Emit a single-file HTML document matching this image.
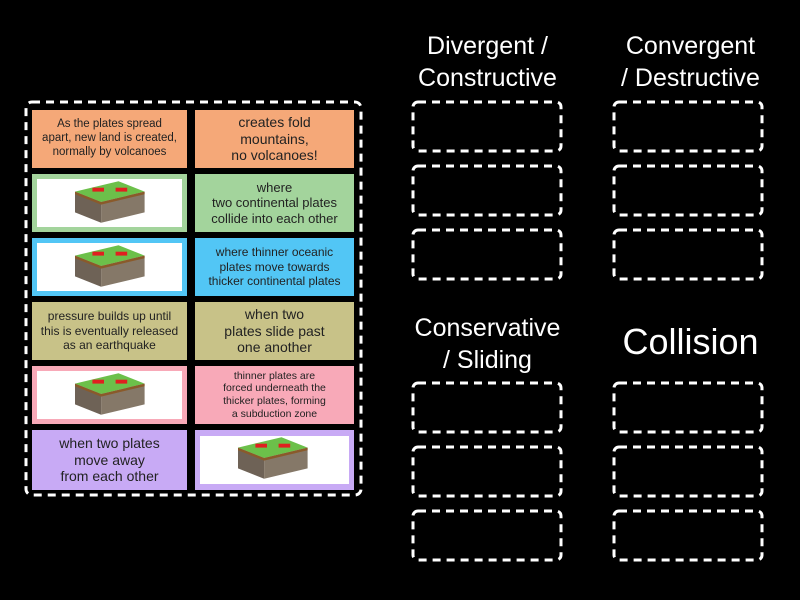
<!DOCTYPE html>
<html><head><meta charset="utf-8">
<style>
*{margin:0;padding:0;box-sizing:border-box}
body{width:800px;height:600px;background:#000;position:relative;overflow:hidden;font-family:"Liberation Sans","DejaVu Sans",sans-serif}
.c{position:absolute;display:flex;align-items:center;justify-content:center;text-align:center;color:#222;line-height:1.2}
.img{position:absolute;background:#fff}
.h{position:absolute;color:#fff;text-align:center;line-height:32px;font-size:25px}
svg.d{position:absolute;left:0;top:0}
</style></head><body>
<svg class="d" width="800" height="600">
<g fill="none" stroke="#fff" stroke-width="3" stroke-dasharray="8 6">
<rect x="26" y="102" width="335" height="393" rx="6"/>
<rect x="413" y="102" width="148" height="49" rx="5"/>
<rect x="413" y="166" width="148" height="49" rx="5"/>
<rect x="413" y="230" width="148" height="49" rx="5"/>
<rect x="614" y="102" width="148" height="49" rx="5"/>
<rect x="614" y="166" width="148" height="49" rx="5"/>
<rect x="614" y="230" width="148" height="49" rx="5"/>
<rect x="413" y="383" width="148" height="49" rx="5"/>
<rect x="413" y="447" width="148" height="49" rx="5"/>
<rect x="413" y="511" width="148" height="49" rx="5"/>
<rect x="614" y="383" width="148" height="49" rx="5"/>
<rect x="614" y="447" width="148" height="49" rx="5"/>
<rect x="614" y="511" width="148" height="49" rx="5"/>
</g>
</svg>
<div class="h" style="left:395px;top:30px;width:185px">Divergent /<br>Constructive</div>
<div class="h" style="left:598px;top:30px;width:185px">Convergent<br>/ Destructive</div>
<div class="h" style="left:395px;top:312px;width:185px">Conservative<br>/ Sliding</div>
<div class="h" style="left:598px;top:322px;width:185px;font-size:36px;line-height:40px">Collision</div>

<div class="c" style="left:32px;top:110px;width:155px;height:58px;background:#f5a878;font-size:11.5px">As the plates spread<br>apart, new land is created,<br>normally by volcanoes</div>
<div class="c" style="left:195px;top:110px;width:159px;height:58px;background:#f5a878;font-size:14px">creates fold<br>mountains,<br>no volcanoes!</div>

<div class="c" style="left:32px;top:174px;width:155px;height:58px;background:#a3d49c"><div class="img" style="left:5px;top:5px;width:145px;height:48px"></div></div>
<div class="c" style="left:195px;top:174px;width:159px;height:58px;background:#a3d49c;font-size:13px">where<br>two continental plates<br>collide into each other</div>

<div class="c" style="left:32px;top:238px;width:155px;height:58px;background:#52c6f5"><div class="img" style="left:5px;top:5px;width:145px;height:48px"></div></div>
<div class="c" style="left:195px;top:238px;width:159px;height:58px;background:#52c6f5;font-size:12px">where thinner oceanic<br>plates move towards<br>thicker continental plates</div>

<div class="c" style="left:32px;top:302px;width:155px;height:58px;background:#c8c288;font-size:12px">pressure builds up until<br>this is eventually released<br>as an earthquake</div>
<div class="c" style="left:195px;top:302px;width:159px;height:58px;background:#c8c288;font-size:14px">when two<br>plates slide past<br>one another</div>

<div class="c" style="left:32px;top:366px;width:155px;height:58px;background:#f8a9b8"><div class="img" style="left:5px;top:5px;width:145px;height:48px"></div></div>
<div class="c" style="left:195px;top:366px;width:159px;height:58px;background:#f8a9b8;font-size:10.5px">thinner plates are<br>forced underneath the<br>thicker plates, forming<br>a subduction zone</div>

<div class="c" style="left:32px;top:430px;width:155px;height:60px;background:#c8aaf5;font-size:14px">when two plates<br>move away<br>from each other</div>
<div class="c" style="left:195px;top:430px;width:159px;height:60px;background:#c8aaf5"><div class="img" style="left:5px;top:6px;width:149px;height:48px"></div></div>

<svg class="d" width="800" height="600">
<defs>
<g id="blk">
<polygon points="0,12 30,4 48,12 18,20" fill="#6cc04a"/>
<polygon points="0,12 18,20 18,36 0,28" fill="#6e6256"/>
<polygon points="18,20 48,12 48,28 18,36" fill="#857868"/>
<polygon points="0,12 18,20 48,12 48,14 18,22 0,14" fill="#8a5a2a"/>
<rect x="12" y="9" width="8" height="3" fill="#e02020"/>
<rect x="28" y="9" width="8" height="3" fill="#e02020"/>
</g>
</defs>
<use href="#blk" transform="translate(75,176) scale(1.45,1.3)"/>
<use href="#blk" transform="translate(75,240) scale(1.45,1.3)"/>
<use href="#blk" transform="translate(75,368) scale(1.45,1.3)"/>
<use href="#blk" transform="translate(238,432) scale(1.45,1.3)"/>
</svg>
</body></html>
